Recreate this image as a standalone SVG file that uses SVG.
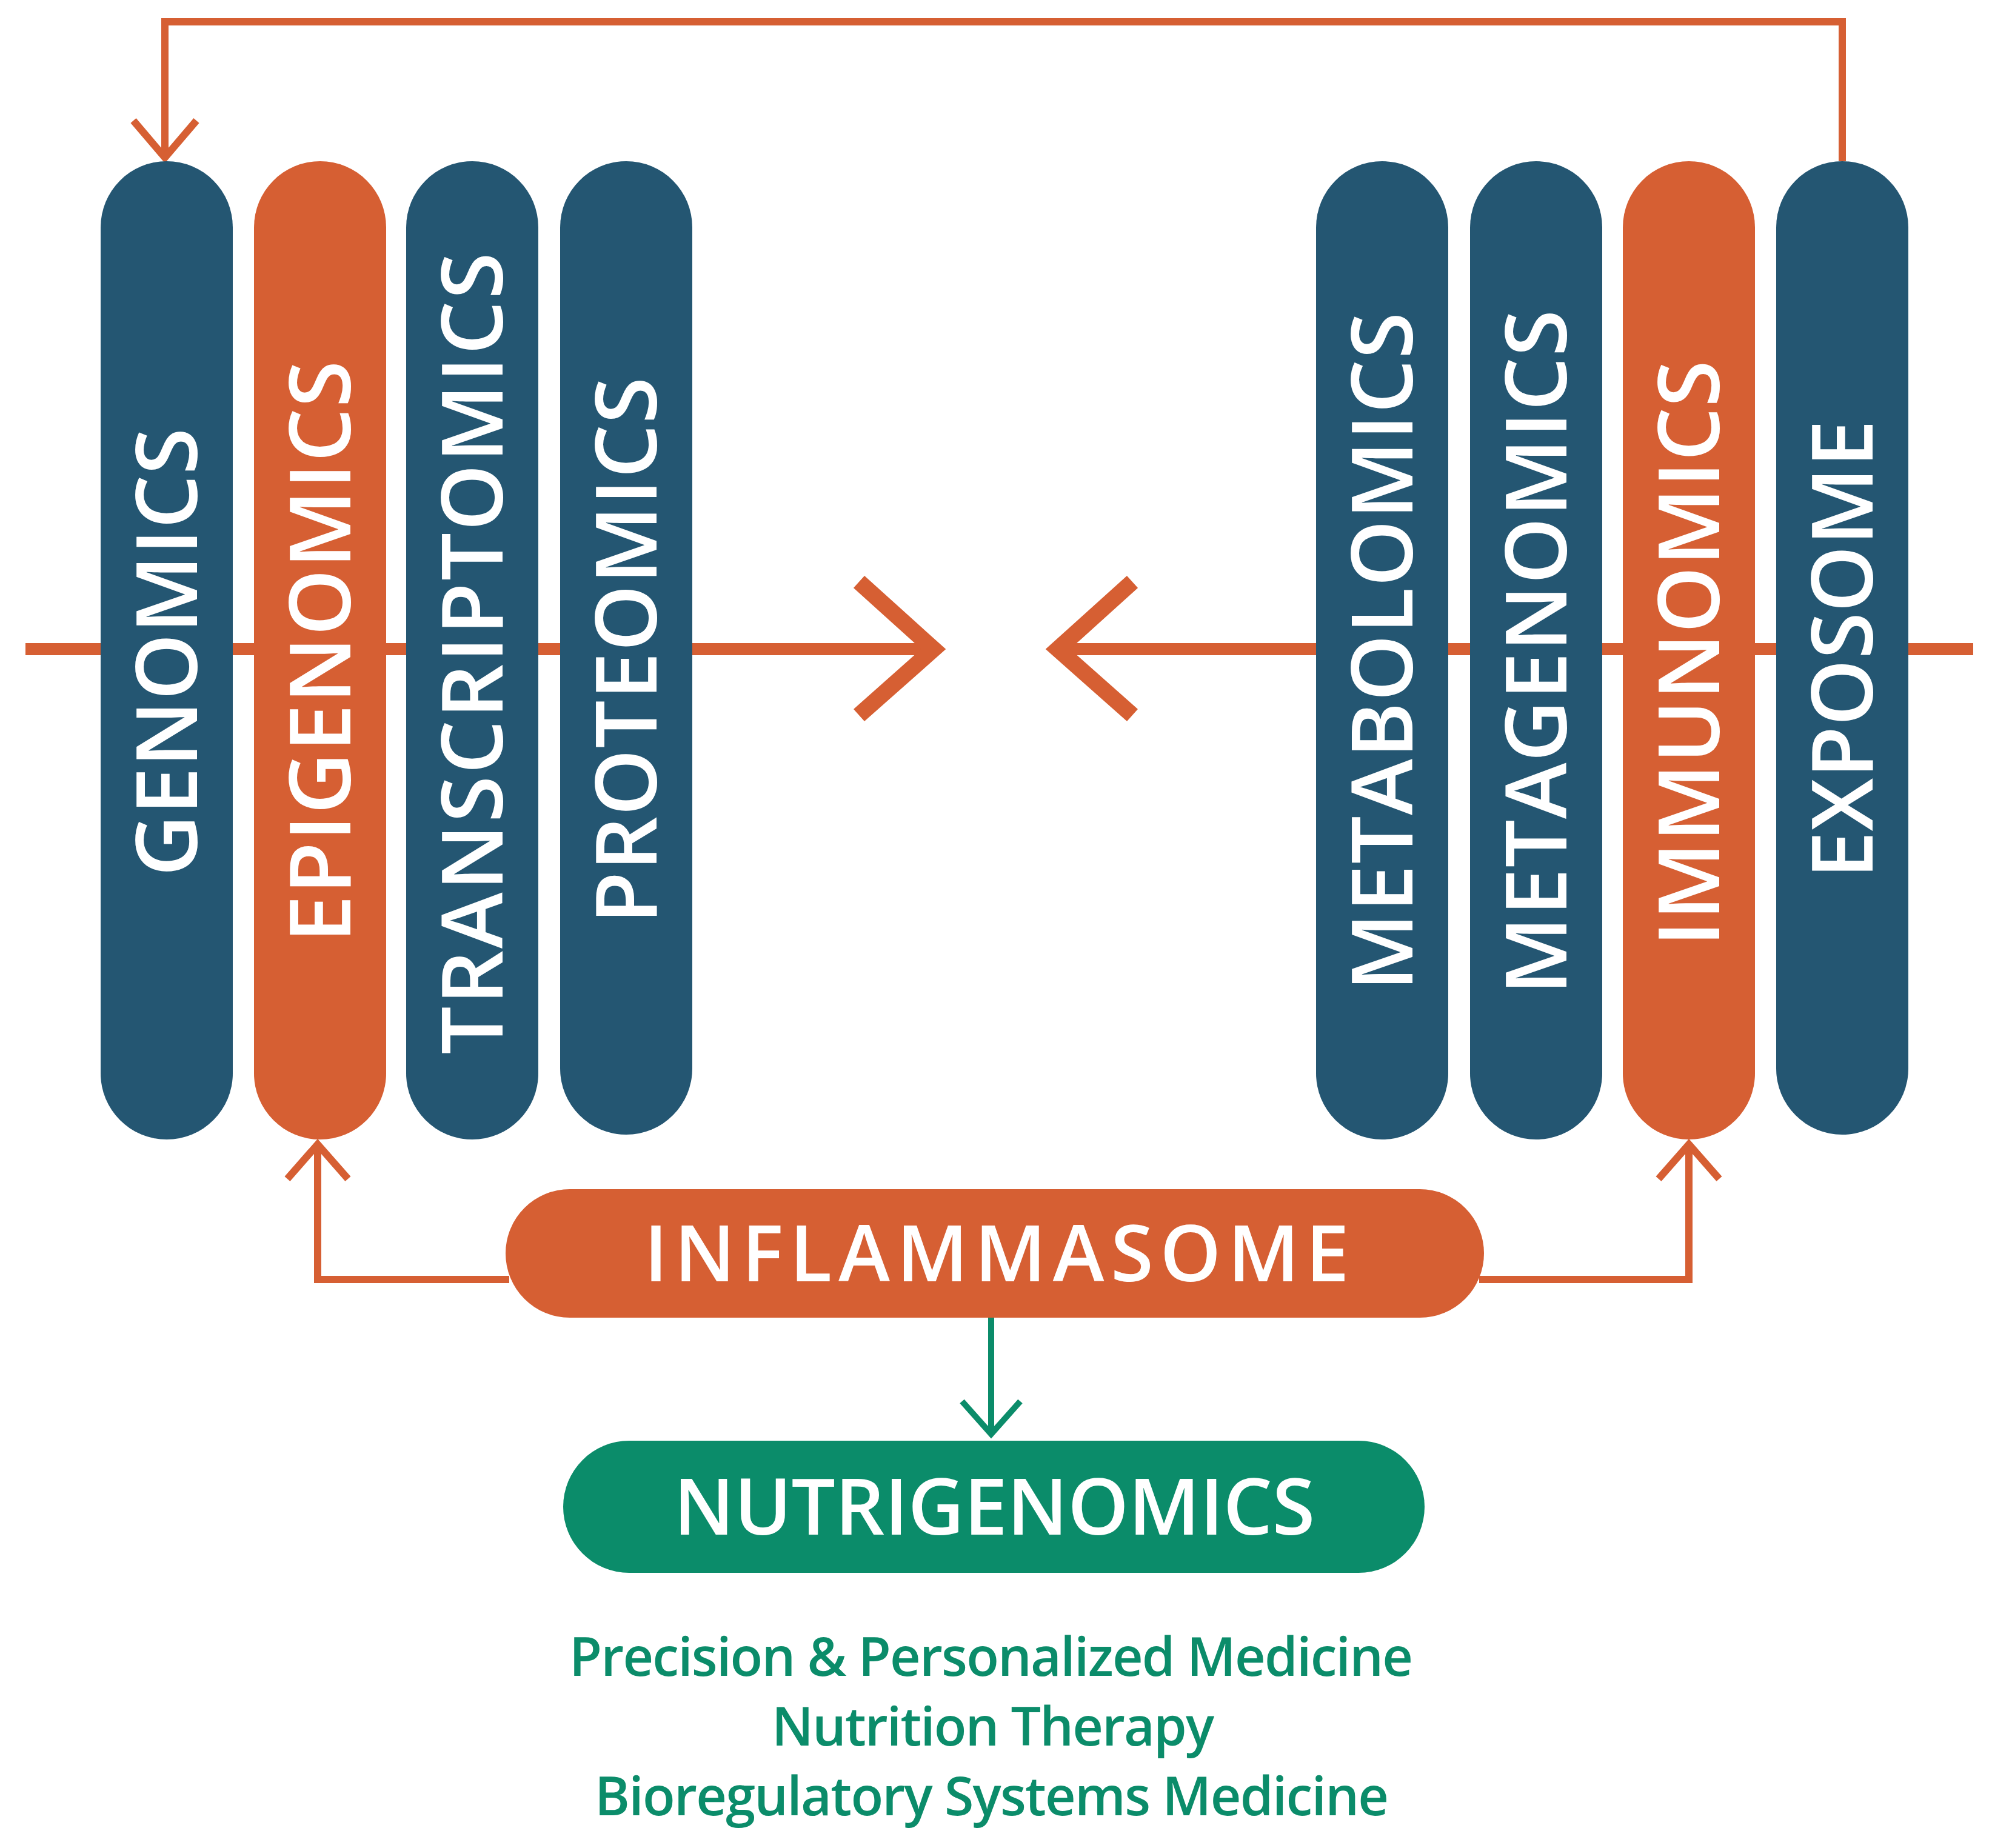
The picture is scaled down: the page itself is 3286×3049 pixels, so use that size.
<svg xmlns="http://www.w3.org/2000/svg" width="3286" height="3049" viewBox="0 0 3286 3049">
<style>
.n{fill:#245672}.o{fill:#D65F33}.g{fill:#0B8C6A}
.v{font-family:"Open Sans","Liberation Sans",sans-serif;font-weight:600;font-size:140px;fill:#fff;text-anchor:middle;letter-spacing:8px}
.h{font-family:"Open Sans","Liberation Sans",sans-serif;font-weight:600;font-size:128px;fill:#fff;text-anchor:middle}
.s{font-family:"Open Sans","Liberation Sans",sans-serif;font-weight:600;font-size:88px;fill:#0B8C6A;text-anchor:middle}
.lo{fill:none;stroke:#D65F33;stroke-width:12}
.lg{fill:none;stroke:#0B8C6A;stroke-width:10}
</style>
<g id="connectors">
<line x1="42" y1="1071" x2="1540" y2="1071" stroke="#D65F33" stroke-width="20"/>
<polyline points="1417,960 1540,1071 1417,1180" fill="none" stroke="#D65F33" stroke-width="27"/>
<line x1="1745" y1="1071" x2="3255" y2="1071" stroke="#D65F33" stroke-width="20"/>
<polyline points="1868,960 1745,1071 1868,1180" fill="none" stroke="#D65F33" stroke-width="27"/>
<polyline class="lo" points="3039,266 3039,36 272,36 272,260"/>
<polyline class="lo" points="220,199 272,260 324,199"/>
<polyline class="lo" points="840,2111 524,2111 524,1888"/>
<polyline class="lo" points="474,1945 524,1888 574,1945"/>
<polyline class="lo" points="2440,2111 2786,2111 2786,1888"/>
<polyline class="lo" points="2736,1945 2786,1888 2836,1945"/>
<line class="lg" x1="1635" y1="2174" x2="1635" y2="2366"/>
<polyline class="lg" points="1587,2312 1635,2366 1683,2312"/>
</g>
<g id="genomics"><rect class="n" x="166" y="266" width="218" height="1614" rx="109"/><text class="v" transform="translate(275,1072) rotate(-90)" dy="50" textLength="748">GENOMICS</text></g>
<g id="epigenomics"><rect class="o" x="419" y="266" width="218" height="1614" rx="109"/><text class="v" transform="translate(528,1071) rotate(-90)" dy="50" textLength="968">EPIGENOMICS</text></g>
<g id="transcriptomics"><rect class="n" x="670" y="266" width="218" height="1614" rx="109"/><text class="v" transform="translate(779,1074) rotate(-90)" dy="50" textLength="1331">TRANSCRIPTOMICS</text></g>
<g id="proteomics"><rect class="n" x="924" y="266" width="218" height="1606" rx="109"/><text class="v" transform="translate(1033,1069) rotate(-90)" dy="50" textLength="910">PROTEOMICS</text></g>
<g id="metabolomics"><rect class="n" x="2171" y="266" width="218" height="1614" rx="109"/><text class="v" transform="translate(2280,1071) rotate(-90)" dy="50" textLength="1128">METABOLOMICS</text></g>
<g id="metagenomics"><rect class="n" x="2425" y="266" width="218" height="1614" rx="109"/><text class="v" transform="translate(2534,1072) rotate(-90)" dy="50" textLength="1138">METAGENOMICS</text></g>
<g id="immunomics"><rect class="o" x="2677" y="266" width="218" height="1614" rx="109"/><text class="v" transform="translate(2786,1074) rotate(-90)" dy="50" textLength="975">IMMUNOMICS</text></g>
<g id="exposome"><rect class="n" x="2930" y="266" width="218" height="1606" rx="109"/><text class="v" transform="translate(3039,1067) rotate(-90)" dy="50" textLength="765">EXPOSOME</text></g>
<g id="inflammasome"><rect class="o" x="834" y="1962" width="1614" height="212" rx="106"/><text class="h" x="1644" y="2114" textLength="1163">INFLAMMASOME</text></g>
<g id="nutrigenomics"><rect class="g" x="929" y="2377" width="1421" height="218" rx="109"/><text class="h" x="1640" y="2532" textLength="1058">NUTRIGENOMICS</text></g>
<g id="outcomes">
<text class="s" x="1635" y="2765" textLength="1392">Precision &amp; Personalized Medicine</text>
<text class="s" x="1638" y="2880" textLength="730">Nutrition Therapy</text>
<text class="s" x="1636" y="2995" textLength="1310">Bioregulatory Systems Medicine</text>
</g>
</svg>
